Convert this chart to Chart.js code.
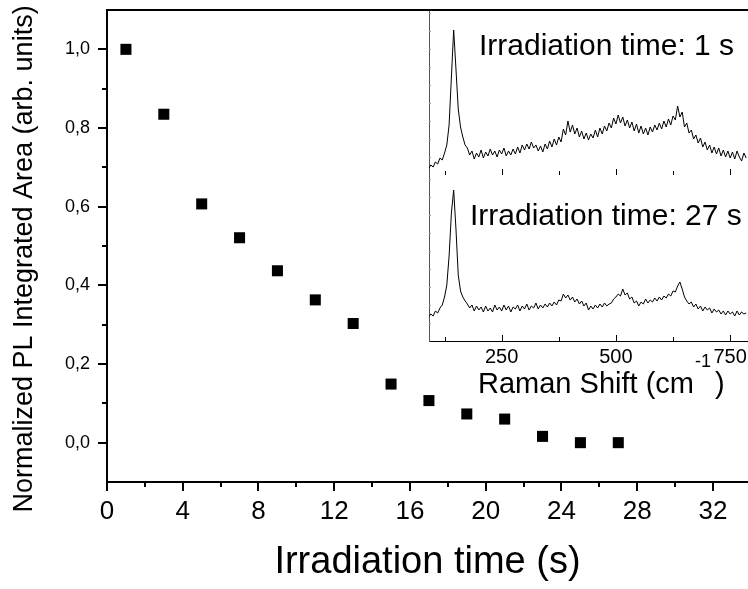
<!DOCTYPE html>
<html>
<head>
<meta charset="utf-8">
<script src="https://cdn.jsdelivr.net/npm/chart.js@4.4.1/dist/chart.umd.min.js"></script>
<style>
  html, body { margin: 0; padding: 0; background: #fff; }
  #wrap { position: relative; width: 748px; height: 589px; overflow: hidden; }
  canvas { position: absolute; }
  #main { left: 0; top: 0; }
  #insetTop { left: 428px; top: 11px; }
  #insetBottom { left: 428px; top: 175px; }
</style>
</head>
<body>
<div id="wrap">
  <canvas id="main" width="748" height="589"></canvas>
  <canvas id="insetTop" width="320" height="165"></canvas>
  <canvas id="insetBottom" width="320" height="225"></canvas>
</div>
<script>
/* ---------- main plot data ---------- */
const irradiationTime = [1, 3, 5, 7, 9, 11, 13, 15, 17, 19, 21, 23, 25, 27];
const plArea = [1.0, 0.835, 0.607, 0.521, 0.437, 0.363, 0.303, 0.149, 0.107, 0.073, 0.060, 0.016, 0.0, 0.0];

const xMajorTicks = [0, 4, 8, 12, 16, 20, 24, 28, 32];
const xMinorTicks = [2, 6, 10, 14, 18, 22, 26, 30];
const yMajorTicks = [0, 0.2, 0.4, 0.6, 0.8, 1.0];
const yMinorTicks = [0.1, 0.3, 0.5, 0.7, 0.9];

/* ---------- inset: Raman spectra (arb. intensity) ---------- */
const ramanShift = [
  90, 95, 100, 105, 110, 115, 120, 125, 130, 135,
  140, 145, 150, 155, 160, 165, 170, 175, 180, 185,
  190, 195, 200, 205, 210, 215, 220, 225, 230, 235,
  240, 245, 250, 255, 260, 265, 270, 275, 280, 285,
  290, 295, 300, 305, 310, 315, 320, 325, 330, 335,
  340, 345, 350, 355, 360, 365, 370, 375, 380, 385,
  390, 395, 400, 405, 410, 415, 420, 425, 430, 435,
  440, 445, 450, 455, 460, 465, 470, 475, 480, 485,
  490, 495, 500, 505, 510, 515, 520, 525, 530, 535,
  540, 545, 550, 555, 560, 565, 570, 575, 580, 585,
  590, 595, 600, 605, 610, 615, 620, 625, 630, 635,
  640, 645, 650, 655, 660, 665, 670, 675, 680, 685,
  690, 695, 700, 705, 710, 715, 720, 725, 730, 735,
  740, 745, 750, 755, 760, 765, 770, 775, 780, 785];
const spectrum1s = [
  6, 10, 8, 13, 11, 17, 15, 22, 30, 50,
  98, 145, 106, 66, 48, 38, 30, 27, 20, 24,
  16, 22, 18, 25, 17, 23, 19, 26, 20, 24,
  18, 25, 21, 27, 19, 24, 20, 26, 21, 28,
  22, 30, 25, 31, 26, 33, 27, 30, 24, 29,
  23, 31, 26, 34, 28, 36, 30, 38, 33, 46,
  40, 54, 43, 50, 41, 47, 38, 44, 36, 42,
  35, 41, 37, 45, 38, 47, 41, 49, 44, 52,
  47, 57, 51, 60, 52, 58, 49, 55, 47, 53,
  44, 51, 42, 49, 41, 47, 40, 48, 43, 50,
  45, 52, 46, 54, 48, 56, 50, 59, 55, 69,
  58, 63, 48, 52, 42, 45, 36, 40, 32, 37,
  28, 33, 25, 30, 22, 28, 21, 27, 19, 25,
  18, 24, 17, 23, 16, 24, 18, 14, 22, 17];
const spectrum27s = [
  24, 27, 25, 30, 28, 33, 36, 44, 56, 85,
  128, 151, 112, 66, 50, 44, 40, 37, 33, 36,
  30, 35, 31, 34, 29, 35, 30, 33, 29, 36,
  31, 34, 30, 36, 31, 35, 29, 34, 32, 36,
  30, 35, 32, 37, 31, 35, 33, 38, 32, 36,
  33, 37, 34, 38, 35, 39, 36, 41, 40, 47,
  43, 46, 41, 44, 39, 42, 37, 40, 35, 38,
  31, 35, 32, 36, 33, 37, 34, 38, 35, 37,
  38, 42, 44, 47, 45, 52, 46, 48, 42, 44,
  38, 40, 35, 39, 37, 42, 38, 41, 39, 43,
  40, 44, 41, 45, 43, 47, 45, 50, 49, 55,
  59, 52, 44, 40, 37, 39, 34, 37, 32, 35,
  30, 34, 31, 33, 28, 32, 29, 31, 27, 30,
  26, 30, 27, 29, 25, 30, 26, 29, 27, 28];

const ramanMajorTicks = [250, 500, 750];
const ramanMinorTicks = [125, 375, 625];
const insetSideTicks = [18, 36, 54, 72, 90, 108, 126, 144, 162];

const FONT = "'Liberation Sans', Arial, sans-serif";

/* ---------- helpers ---------- */
// tick marks (major/minor, inward or outward) placed through the chart's own scales
function tickMarks(specs) {
  return {
    id: 'tickMarks',
    afterDraw(chart) {
      const ctx = chart.ctx, ca = chart.chartArea;
      specs.forEach(sp => {
        const s = chart.scales[sp.scale];
        ctx.save();
        ctx.strokeStyle = sp.color || '#000';
        ctx.lineWidth = sp.width || 1;
        const off = (sp.width || 1) % 2 ? 0.5 : 0;
        [[sp.major, sp.majorLen], [sp.minor || [], sp.minorLen]].forEach(([vals, len]) => {
          vals.forEach(v => {
            const p = Math.round(s.getPixelForValue(v)) + off;
            ctx.beginPath();
            if (s.isHorizontal()) {
              const d = sp.inward ? -1 : 1;
              ctx.moveTo(p, ca.bottom); ctx.lineTo(p, ca.bottom + d * len);
            } else {
              const d = sp.inward ? 1 : -1;
              ctx.moveTo(ca.left, p); ctx.lineTo(ca.left + d * len, p);
            }
            ctx.stroke();
          });
        });
        ctx.restore();
      });
    }
  };
}

// top frame line + rotated y title of the main plot
const mainExtras = {
  id: 'mainExtras',
  afterDraw(chart) {
    const { ctx, chartArea: a } = chart;
    ctx.save();
    ctx.strokeStyle = '#000';
    ctx.lineWidth = 2;
    ctx.beginPath();
    ctx.moveTo(a.left - 1, a.top);
    ctx.lineTo(a.right, a.top);
    ctx.stroke();
    ctx.translate(25, 259);
    ctx.rotate(-Math.PI / 2);
    ctx.fillStyle = '#000';
    ctx.font = '27px ' + FONT;
    ctx.textAlign = 'center';
    ctx.textBaseline = 'middle';
    ctx.fillText('Normalized PL Integrated Area (arb. units)', 0, 0);
    ctx.restore();
  }
};

// free text pieces drawn on the canvas
function texts(items) {
  return {
    id: 'texts',
    afterDraw(chart) {
      const ctx = chart.ctx;
      ctx.save();
      ctx.fillStyle = '#000';
      ctx.textBaseline = 'alphabetic';
      items.forEach(it => {
        ctx.font = it.size + 'px ' + FONT;
        ctx.fillText(it.text, it.x, it.y);
      });
      ctx.restore();
    }
  };
}

const whiteBg = {
  id: 'whiteBg',
  beforeDraw(chart) {
    const { ctx, chartArea: a } = chart;
    ctx.save();
    ctx.fillStyle = '#fff';
    ctx.fillRect(a.left, a.top, a.right - a.left, a.bottom - a.top);
    ctx.restore();
  }
};

/* ---------- main scatter chart ---------- */
new Chart(document.getElementById('main'), {
  type: 'scatter',
  data: {
    datasets: [{
      data: irradiationTime.map((t, i) => ({ x: t, y: plArea[i] })),
      pointStyle: 'rect',
      pointRadius: 7.8,
      pointHoverRadius: 7.8,
      backgroundColor: '#000',
      borderWidth: 0
    }]
  },
  options: {
    responsive: false,
    animation: false,
    events: [],
    layout: { autoPadding: false, padding: { top: 10, right: 0, left: 0, bottom: 0 } },
    plugins: { legend: { display: false }, tooltip: { enabled: false } },
    scales: {
      x: {
        type: 'linear', position: 'bottom', min: 0, max: 33.85,
        afterBuildTicks: s => { s.ticks = xMajorTicks.map(v => ({ value: v })); },
        afterFit: s => { s.height = 107; s.paddingLeft = 0; s.paddingRight = 0; },
        grid: { display: false, drawTicks: false },
        border: { display: true, color: '#000', width: 2 },
        ticks: { padding: 14, color: '#000', font: { family: FONT, size: 26 }, maxRotation: 0, autoSkip: false },
        title: { display: true, text: 'Irradiation time (s)', color: '#000', font: { family: FONT, size: 38 }, padding: { top: 0, bottom: 4 } }
      },
      y: {
        type: 'linear', position: 'left', min: -0.1, max: 1.1,
        afterBuildTicks: s => { s.ticks = yMajorTicks.map(v => ({ value: v })); },
        afterFit: s => { s.width = 107; s.paddingTop = 0; s.paddingBottom = 0; },
        grid: { display: false, drawTicks: false },
        border: { display: true, color: '#000', width: 2 },
        ticks: { padding: 17, color: '#000', font: { family: FONT, size: 18 }, callback: v => v.toFixed(1).replace('.', ',') }
      }
    }
  },
  plugins: [mainExtras, tickMarks([
    { scale: 'x', major: xMajorTicks, minor: xMinorTicks, majorLen: 9, minorLen: 5, width: 2 },
    { scale: 'y', major: yMajorTicks, minor: yMinorTicks, majorLen: 9, minorLen: 5, width: 2 }
  ])]
});

/* ---------- inset spectra ---------- */
function insetOptions(yMax, bottomHeight, showLabels) {
  return {
    responsive: false,
    animation: false,
    events: [],
    layout: { autoPadding: false, padding: { top: 0, right: 0, left: 0, bottom: showLabels ? 0 : 1 } },
    plugins: { legend: { display: false }, tooltip: { enabled: false } },
    scales: {
      x: {
        type: 'linear', min: 91, max: 789,
        afterBuildTicks: s => { s.ticks = ramanMajorTicks.map(v => ({ value: v })); },
        afterFit: s => { s.height = bottomHeight; s.paddingLeft = 0; s.paddingRight = 0; },
        grid: { display: false, drawTicks: false },
        border: { display: true, color: '#000', width: 1 },
        ticks: { display: showLabels, padding: 4, color: '#000', font: { family: FONT, size: 20 }, maxRotation: 0, autoSkip: false }
      },
      y: {
        type: 'linear', min: 0, max: yMax,
        afterFit: s => { s.width = 1; s.paddingTop = 0; s.paddingBottom = 0; },
        grid: { display: false, drawTicks: false },
        border: { display: true, color: '#555', width: 1 },
        ticks: { display: false }
      }
    }
  };
}

const insetTicks = tickMarks([
  { scale: 'x', major: ramanMajorTicks, minor: ramanMinorTicks, majorLen: 6, minorLen: 4, width: 1, inward: true },
  { scale: 'y', major: insetSideTicks, majorLen: 2, width: 1, inward: true, color: '#999' }
]);

new Chart(document.getElementById('insetTop'), {
  type: 'line',
  data: {
    datasets: [{
      data: ramanShift.map((r, i) => ({ x: r, y: spectrum1s[i] })),
      borderColor: '#000', borderWidth: 1, pointRadius: 0, tension: 0, fill: false
    }]
  },
  options: insetOptions(164, 0, false),
  plugins: [whiteBg, insetTicks, texts([{ text: 'Irradiation time: 1 s', x: 51, y: 44, size: 30 }])]
});

new Chart(document.getElementById('insetBottom'), {
  type: 'line',
  data: {
    datasets: [{
      data: ramanShift.map((r, i) => ({ x: r, y: spectrum27s[i] })),
      borderColor: '#000', borderWidth: 1, pointRadius: 0, tension: 0, fill: false
    }]
  },
  options: insetOptions(166, 59, true),
  plugins: [whiteBg, insetTicks, texts([
    { text: 'Irradiation time: 27 s', x: 42, y: 50, size: 30 },
    { text: 'Raman Shift (cm', x: 50, y: 218, size: 29 },
    { text: '-1', x: 267, y: 192, size: 18 },
    { text: ')', x: 287, y: 218, size: 29 }
  ])]
});
</script>
</body>
</html>
